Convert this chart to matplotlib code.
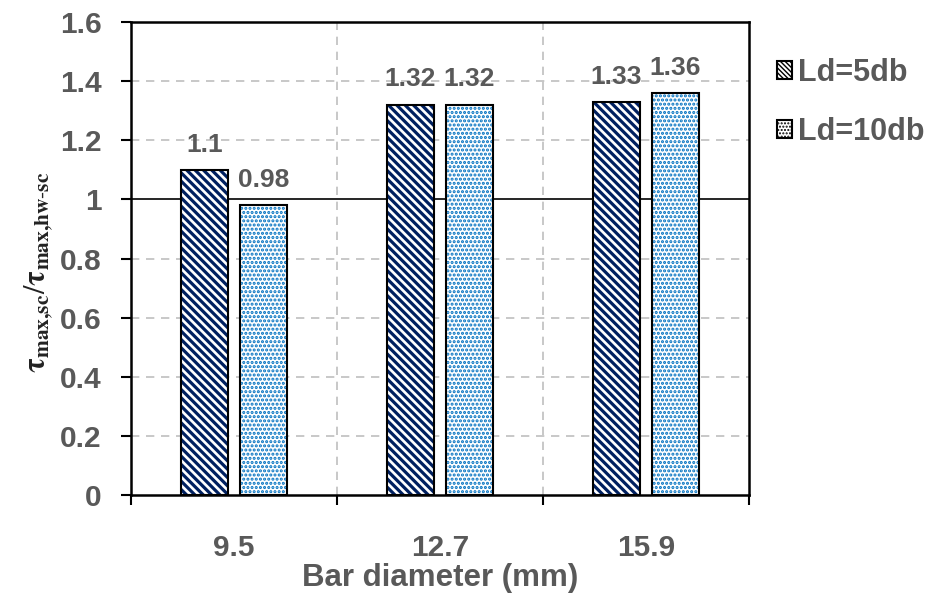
import matplotlib
matplotlib.use("Agg")
import matplotlib.pyplot as plt
import numpy as np
from matplotlib.patches import Patch

categories = ["9.5", "12.7", "15.9"]
ld5 = [1.10, 1.32, 1.33]
ld10 = [0.98, 1.32, 1.36]
series_names = ["Ld=5db", "Ld=10db"]
yticks = [0, 0.2, 0.4, 0.6, 0.8, 1, 1.2, 1.4, 1.6]

plt.rcParams['font.family'] = ['Liberation Sans', 'DejaVu Sans']
plt.rcParams['mathtext.fontset'] = 'stix'

gray = '#595959'
navy = '#002060'
blue = '#0070C0'
H5 = '\\' * 4
H10 = '....'

fig = plt.figure(figsize=(9.34, 5.95), dpi=100)
ax = fig.add_axes([131/934, 100/595, 618/934, 473/595])

x = np.arange(len(categories))
w = 0.227
off = 0.143

with plt.rc_context({'hatch.linewidth': 2.3}):
    ax.bar(x - off, ld5, w, color='white', edgecolor=navy, hatch=H5, linewidth=0, zorder=3)
with plt.rc_context({'hatch.linewidth': 1.5}):
    ax.bar(x + off, ld10, w, color='white', edgecolor=blue, hatch=H10, linewidth=0, zorder=3)
ax.bar(x - off, ld5, w, color='none', edgecolor='black', linewidth=1.5, zorder=4)
ax.bar(x + off, ld10, w, color='none', edgecolor='black', linewidth=1.5, zorder=4)

for xs, vals in ((x - off, ld5), (x + off, ld10)):
    for xi, v in zip(xs, vals):
        ax.text(xi, v + 0.045, f"{v:g}", ha='center', va='bottom', fontsize=19,
                fontweight='bold', color=gray, zorder=5)

ax.set_xlim(-0.5, 2.5)
ax.set_ylim(0, 1.6)
ax.set_yticks(yticks)
ax.set_yticklabels([f"{t:g}" for t in yticks])
ax.set_xticks(x)
ax.set_xticklabels(categories)
ax.set_xticks([-0.5, 0.5, 1.5, 2.5], minor=True)

ax.tick_params(axis='x', which='major', length=0, pad=28, labelsize=21.5, labelcolor=gray)
ax.tick_params(axis='x', which='minor', length=7, width=1.5, direction='out')
ax.tick_params(axis='y', length=7, width=1.5, direction='out', pad=14, labelsize=21.5, labelcolor=gray)
for lbl in ax.get_xticklabels() + ax.get_yticklabels():
    lbl.set_fontweight('bold')

ax.grid(False)
for t in yticks[1:]:
    if t != 1:
        ax.axhline(t, color='#BFBFBF', linestyle=(0, (5, 4)), linewidth=1.2, zorder=1)
for xv in [0.5, 1.5]:
    ax.axvline(xv, color='#BFBFBF', linestyle=(0, (5, 4)), linewidth=1.2, zorder=1)
ax.axhline(1, color='black', linewidth=1.2, zorder=2)

for s in ax.spines.values():
    s.set_linewidth(1.8)
    s.set_color('black')

ax.set_xlabel("Bar diameter (mm)", fontsize=22.5, fontweight='bold', color=gray, labelpad=1)
ax.set_ylabel(r'$\mathbf{\tau}_{\mathbf{max{,}sc}}/\mathbf{\tau}_{\mathbf{max{,}hw\text{-}sc}}$',
              fontsize=22, color='#222222', labelpad=4)
ax.yaxis.label.set_y(0.47)

with plt.rc_context({'hatch.linewidth': 1.8}):
    hp1 = Patch(facecolor='white', edgecolor=navy, hatch='\\' * 7, linewidth=0)
with plt.rc_context({'hatch.linewidth': 1.4}):
    hp2 = Patch(facecolor='white', edgecolor=blue, hatch='.....', linewidth=0)
leg = fig.legend([hp1, hp2], series_names, loc='upper left', bbox_to_anchor=(777/934, 1 - 58/595),
                 frameon=False, handlelength=0.5, handleheight=0.5, handletextpad=0.2,
                 labelspacing=0.95, borderpad=0, borderaxespad=0,
                 prop={'size': 22, 'weight': 'bold'})
for t in leg.get_texts():
    t.set_color(gray)
for p in leg.get_patches():
    p.set_edgecolor('black')
    p.set_linewidth(1.5)

fig.savefig("out.png", dpi=100)
